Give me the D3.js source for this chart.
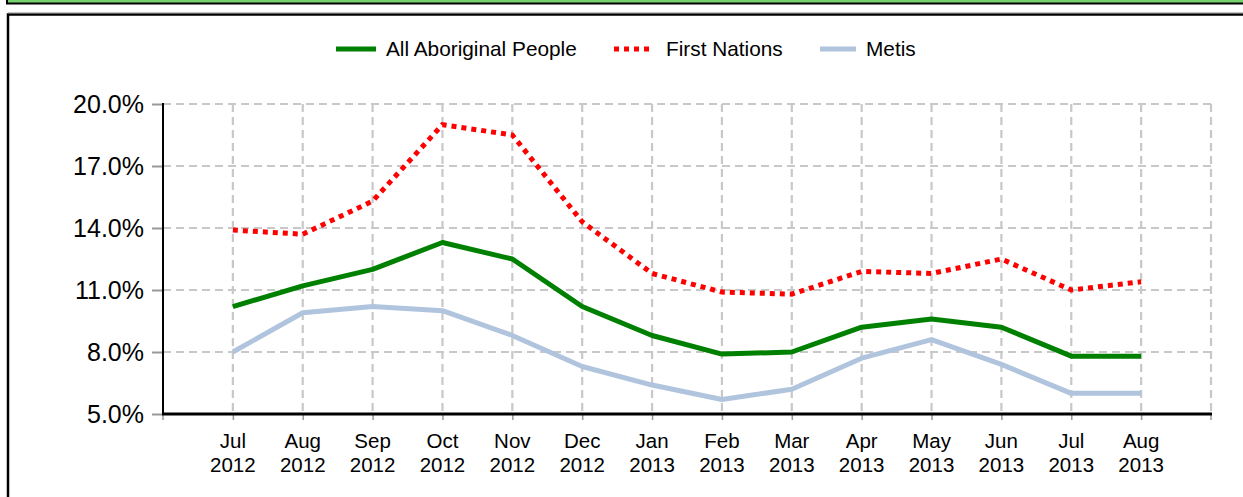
<!DOCTYPE html>
<html>
<head>
<meta charset="utf-8">
<script src="https://cdn.jsdelivr.net/npm/d3@7/dist/d3.min.js"></script>
<style>
  html, body { margin: 0; padding: 0; background: #fff; }
  svg { display: block; font-family: Arial, "Liberation Sans", sans-serif; }
</style>
</head>
<body>
<svg id="chart" width="1243" height="497"></svg>
<script>
const months = ["Jul","Aug","Sep","Oct","Nov","Dec","Jan","Feb","Mar","Apr","May","Jun","Jul","Aug"];
const years  = ["2012","2012","2012","2012","2012","2012","2013","2013","2013","2013","2013","2013","2013","2013"];
const categories = months.map((m, i) => m + " " + years[i]);
const allAboriginal = [10.2, 11.2, 12.0, 13.3, 12.5, 10.2, 8.8, 7.9, 8.0, 9.2, 9.6, 9.2, 7.8, 7.8];
const firstNations  = [13.9, 13.7, 15.3, 19.0, 18.5, 14.3, 11.8, 10.9, 10.8, 11.9, 11.8, 12.5, 11.0, 11.4];
const metis         = [8.0, 9.9, 10.2, 10.0, 8.8, 7.3, 6.4, 5.7, 6.2, 7.7, 8.6, 7.4, 6.0, 6.0];
const yTicks = [5, 8, 11, 14, 17, 20];
const seriesNames = ["All Aboriginal People", "First Nations", "Metis"];

const svg = d3.select("#chart");
const W = 1243, H = 497;

// top band + panel frame
svg.append("rect").attr("x", 7).attr("y", -2).attr("width", W).attr("height", 5.5)
  .attr("fill", "#74d26c").attr("stroke", "#000").attr("stroke-width", 2);
svg.append("rect").attr("x", 8).attr("y", 14.5).attr("width", W + 10).attr("height", H)
  .attr("fill", "#fff").attr("stroke", "#000").attr("stroke-width", 2.5);
svg.append("line").attr("x1", 8).attr("x2", W).attr("y1", 12.8).attr("y2", 12.8)
  .attr("stroke", "#aaa").attr("stroke-width", 1);

const x0 = 163, x1 = 1211, yTop = 104, yBot = 414;
const x = d3.scalePoint().domain(categories).range([x0, x1]).padding(1);
const y = d3.scaleLinear().domain([5, 20]).range([yBot, yTop]);

const grid = "#c8c8c8";
// horizontal gridlines
svg.append("g").selectAll("line").data(yTicks.filter(d => d > 5)).join("line")
  .attr("x1", x0).attr("x2", x1).attr("y1", d => y(d)).attr("y2", d => y(d))
  .attr("stroke", grid).attr("stroke-width", 2.2).attr("stroke-dasharray", "8,5");
// vertical gridlines
svg.append("g").selectAll("line").data(categories).join("line")
  .attr("x1", d => x(d)).attr("x2", d => x(d)).attr("y1", yTop).attr("y2", yBot)
  .attr("stroke", grid).attr("stroke-width", 2.2).attr("stroke-dasharray", "8,5");
svg.append("line").attr("x1", x1).attr("x2", x1).attr("y1", yTop).attr("y2", yBot)
  .attr("stroke", grid).attr("stroke-width", 2.2).attr("stroke-dasharray", "8,5");

// y axis
const yAxis = svg.append("g").attr("transform", `translate(${x0},0)`)
  .call(d3.axisLeft(y).tickValues(yTicks).tickSize(11).tickPadding(8).tickFormat(d => d3.format(".1f")(d) + "%"));
yAxis.select(".domain").remove();
yAxis.selectAll(".tick line").attr("stroke", "#999").attr("stroke-width", 2);
yAxis.selectAll(".tick text").attr("font-size", 25).attr("fill", "#000")
  .attr("font-family", "Arial, 'Liberation Sans', sans-serif");
svg.append("line").attr("x1", x0).attr("x2", x0).attr("y1", yTop - 1).attr("y2", yBot)
  .attr("stroke", "#000").attr("stroke-width", 2);

// x axis
const xAxis = svg.append("g").attr("transform", `translate(0,${yBot})`)
  .call(d3.axisBottom(x).tickSize(6).tickFormat(""));
xAxis.select(".domain").remove();
xAxis.selectAll(".tick line").attr("stroke", "#999").attr("stroke-width", 1.5);
svg.append("g").selectAll("line").data([x0, x1]).join("line")
  .attr("x1", d => d).attr("x2", d => d).attr("y1", yBot).attr("y2", yBot + 6)
  .attr("stroke", "#999").attr("stroke-width", 1.5);
svg.append("line").attr("x1", x0 - 1).attr("x2", x1 + 1).attr("y1", yBot).attr("y2", yBot)
  .attr("stroke", "#000").attr("stroke-width", 3);

const xl = svg.append("g").selectAll("text").data(categories).join("text")
  .attr("x", d => x(d)).attr("text-anchor", "middle").attr("font-size", 20.5).attr("fill", "#000");
xl.append("tspan").attr("x", d => x(d)).attr("y", 448).text((d, i) => months[i]);
xl.append("tspan").attr("x", d => x(d)).attr("y", 472).text((d, i) => years[i]);

// lines
const line = d3.line().x((d, i) => x(categories[i])).y(d => y(d));
svg.append("path").datum(metis).attr("d", line).attr("fill", "none")
  .attr("stroke", "#b0c4de").attr("stroke-width", 5).attr("stroke-linejoin", "round");
svg.append("path").datum(allAboriginal).attr("d", line).attr("fill", "none")
  .attr("stroke", "#008000").attr("stroke-width", 5).attr("stroke-linejoin", "round");
svg.append("path").datum(firstNations).attr("d", line).attr("fill", "none")
  .attr("stroke", "#ff0000").attr("stroke-width", 5).attr("stroke-dasharray", "5,5");

// legend
const legend = [
  { name: seriesNames[0], color: "#008000", dash: null, lx: 336, lw: 40, tx: 386 },
  { name: seriesNames[1], color: "#ff0000", dash: "5,5", lx: 614, lw: 40, tx: 666 },
  { name: seriesNames[2], color: "#b0c4de", dash: null, lx: 820, lw: 36, tx: 866 }
];
const lg = svg.append("g").selectAll("g").data(legend).join("g");
lg.append("line").attr("x1", d => d.lx).attr("x2", d => d.lx + d.lw).attr("y1", 49).attr("y2", 49)
  .attr("stroke", d => d.color).attr("stroke-width", 5).attr("stroke-dasharray", d => d.dash);
lg.append("text").attr("x", d => d.tx).attr("y", 56).attr("font-size", 20.8).attr("fill", "#000")
  .text(d => d.name);
</script>
</body>
</html>
